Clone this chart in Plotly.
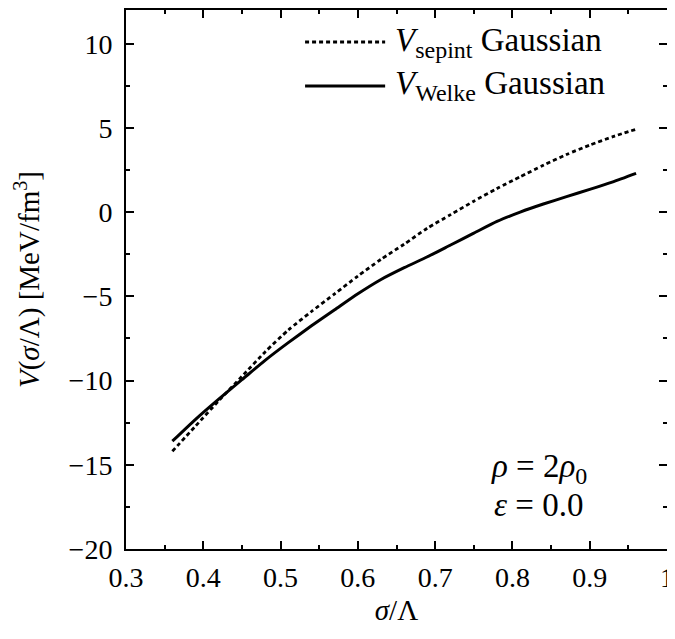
import plotly.graph_objects as go

sigma = [0.36, 0.39, 0.42, 0.45, 0.48, 0.51, 0.54, 0.57, 0.60, 0.63, 0.66,
         0.69, 0.72, 0.75, 0.78, 0.81, 0.84, 0.87, 0.90, 0.93, 0.96]
v_sepint = [-14.2, -12.7, -11.2, -9.75, -8.3, -7.0, -5.9, -4.85, -3.8, -2.8, -1.9,
            -0.95, -0.15, 0.65, 1.4, 2.1, 2.78, 3.42, 3.98, 4.48, 4.92]
v_welke = [-13.6, -12.3, -11.1, -9.95, -8.8, -7.75, -6.75, -5.8, -4.85, -4.0, -3.3,
           -2.65, -1.95, -1.25, -0.55, 0.0, 0.48, 0.92, 1.35, 1.8, 2.3]

x_ticks = [0.3, 0.4, 0.5, 0.6, 0.7, 0.8, 0.9, 1.0]
x_ticktext = ["0.3", "0.4", "0.5", "0.6", "0.7", "0.8", "0.9", "1"]
y_ticks = [-20, -15, -10, -5, 0, 5, 10]
y_ticktext = ["\u221220", "\u221215", "\u221210", "\u22125", "0", "5", "10"]

SUB = "<sub><span style='font-size:24px'>{}</span></sub>"
names = ["<i>V</i>" + SUB.format("sepint") + " Gaussian",
         "<i>V</i>" + SUB.format("Welke") + " Gaussian"]

FONT = "Liberation Serif"
FS_TICK = 28
FS_TEXT = 33
FS_TITLE = 29

fig = go.Figure()
fig.add_trace(go.Scatter(x=sigma, y=v_sepint, mode="lines", name="sepint",
                         line=dict(color="black", width=2.8, dash="4px,3px", shape="spline", smoothing=0.6)))
fig.add_trace(go.Scatter(x=sigma, y=v_welke, mode="lines", name="Welke",
                         line=dict(color="black", width=3, shape="spline", smoothing=0.6)))

# legend (manual)
leg_y = [0.9406, 0.859]
styles = [dict(color="black", width=2.8, dash="4px,3px"), dict(color="black", width=3)]
for yy, st, nm in zip(leg_y, styles, names):
    fig.add_shape(type="line", xref="paper", yref="paper", x0=0.331, x1=0.479, y0=yy, y1=yy,
                  line=st)
    fig.add_annotation(xref="paper", yref="paper", x=0.4935, y=yy, text=nm, showarrow=False,
                       xanchor="left", yanchor="middle", font=dict(family=FONT, size=FS_TEXT, color="black"))

fig.add_annotation(xref="paper", yref="paper", x=0.671, y=0.150,
                   text="<i>\u03c1</i> = 2<i>\u03c1</i><sub><span style='font-size:24px'>0</span></sub>",
                   showarrow=False, xanchor="left", yanchor="middle",
                   font=dict(family=FONT, size=FS_TEXT, color="black"))
fig.add_annotation(xref="paper", yref="paper", x=0.676, y=0.0816, text="<i>\u03b5</i> = 0.0",
                   showarrow=False, xanchor="left", yanchor="middle",
                   font=dict(family=FONT, size=FS_TEXT, color="black"))

fig.update_layout(
    width=675, height=639,
    margin=dict(l=118, r=16, t=2, b=98, autoexpand=False),
    plot_bgcolor="white", paper_bgcolor="white",
    showlegend=False,
    font=dict(family=FONT, size=FS_TICK, color="black"),
)
fig.update_xaxes(range=[0.3, 1.0], tickvals=x_ticks, ticktext=x_ticktext,
                 ticks="inside", ticklen=8, tickwidth=1.5, tickcolor="black",
                 showline=True, linewidth=2, linecolor="black", mirror="ticks",
                 showgrid=False, zeroline=False, automargin=False, ticklabeloverflow="allow",
                 ticklabelstandoff=2,
                 minor=dict(ticks="inside", ticklen=4, tickwidth=1.5, tickcolor="black", dtick=0.05, tick0=0.3, showgrid=False),
                 title=dict(text="<i>\u03c3</i>/\u039b", font=dict(family=FONT, size=FS_TITLE), standoff=8),
                 tickfont=dict(family=FONT, size=FS_TICK))
fig.update_yaxes(range=[-20, 12], tickvals=y_ticks, ticktext=y_ticktext,
                 ticks="inside", ticklen=8, tickwidth=1.5, tickcolor="black",
                 showline=True, linewidth=2, linecolor="black", mirror="ticks",
                 showgrid=False, zeroline=False, automargin=False, ticklabeloverflow="allow",
                 ticklabelstandoff=6,
                 minor=dict(ticks="inside", ticklen=4, tickwidth=1.5, tickcolor="black", dtick=2.5, tick0=-20, showgrid=False),
                 title=dict(text="<i>V</i>(<i>\u03c3</i>/\u039b) [MeV/fm<sup>3</sup>]", font=dict(family=FONT, size=FS_TITLE), standoff=20),
                 tickfont=dict(family=FONT, size=FS_TICK))

fig.write_html("out.html")
